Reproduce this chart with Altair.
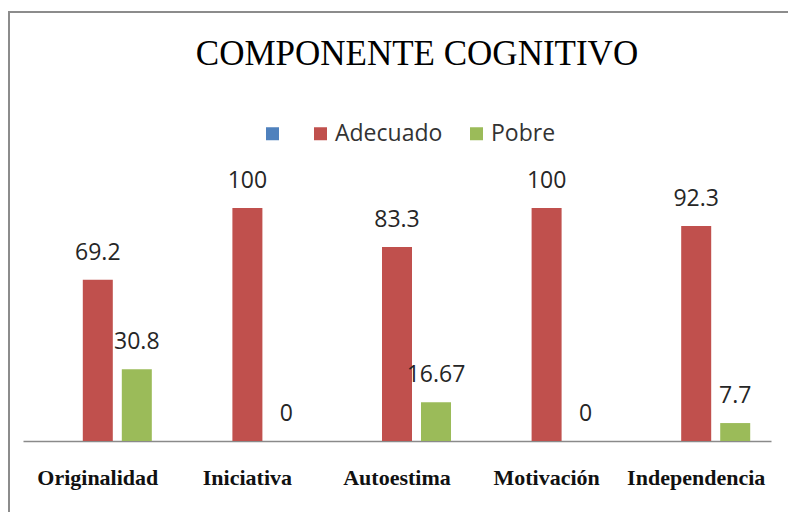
import altair as alt
import pandas as pd

categories = ["Originalidad", "Iniciativa", "Autoestima", "Motivación", "Independencia"]
adecuado = [69.2, 100, 83.3, 100, 92.3]
pobre = [30.8, 0, 16.67, 0, 7.7]
series = ["", "Adecuado", "Pobre"]
colors = ["#4F81BD", "#C0504D", "#9BBB59"]

rows = []
for c, a, p in zip(categories, adecuado, pobre):
    rows.append({"cat": c, "serie": "Adecuado", "valor": a, "label": f"{a:g}"})
    rows.append({"cat": c, "serie": "Pobre", "valor": p, "label": f"{p:g}"})
df = pd.DataFrame(rows)

W, H = 748, 233

x = alt.X("cat:N", sort=categories, title=None,
          scale=alt.Scale(paddingInner=0, paddingOuter=0),
          axis=alt.Axis(labelAngle=0, labelPadding=26, ticks=False,
                        labelFont="Liberation Serif", labelFontSize=22,
                        labelFontWeight="bold",
                        labelColor="#111111", domainColor="#8a8a8a",
                        domainWidth=1.5, grid=False))
xo = alt.XOffset("serie:N", scale=alt.Scale(domain=series, paddingInner=0.2308, paddingOuter=0.533))
y = alt.Y("valor:Q", scale=alt.Scale(domain=[0, 100], nice=False), axis=None)

bars = alt.Chart(df).mark_bar().encode(
    x=x, xOffset=xo, y=y,
    color=alt.Color("serie:N", scale=alt.Scale(domain=series, range=colors),
                    legend=alt.Legend(orient="none", direction="horizontal",
                                      legendX=238, legendY=-86, title=None,
                                      symbolType="square", symbolSize=169,
                                      symbolStrokeWidth=0, labelFont="Open Sans",
                                      labelFontSize=23, labelColor="#333333",
                                      columnPadding=22, labelOffset=3, padding=0))
)

labels = alt.Chart(df).mark_text(font="Open Sans", fontSize=23, color="#262626",
                                 baseline="alphabetic", dy=-20).encode(
    x=x, xOffset=xo, y=y, text="label:N"
)

border = alt.Chart(alt.Data(values=[{"a": 1}])).mark_rule(color="#8c8c8c", strokeWidth=2)
left_line = border.encode(x=alt.value(-14), y=alt.value(-197), y2=alt.value(320))
top_line = border.encode(x=alt.value(-15), x2=alt.value(780), y=alt.value(-196))

chart = alt.layer(left_line, top_line, bars, labels).properties(
    width=W, height=H,
    autosize=alt.AutoSizeParams(type="none"),
    padding={"left": 15, "top": 200, "right": 17, "bottom": 71},
    title=alt.TitleParams("COMPONENTE COGNITIVO", font="Liberation Serif",
                          fontSize=35, fontWeight="normal", color="#000000",
                          anchor="middle", baseline="alphabetic", dx=20, offset=-90)
).configure_view(stroke=None)

chart.save("out.html", embed_options={"renderer": "svg", "actions": False})
